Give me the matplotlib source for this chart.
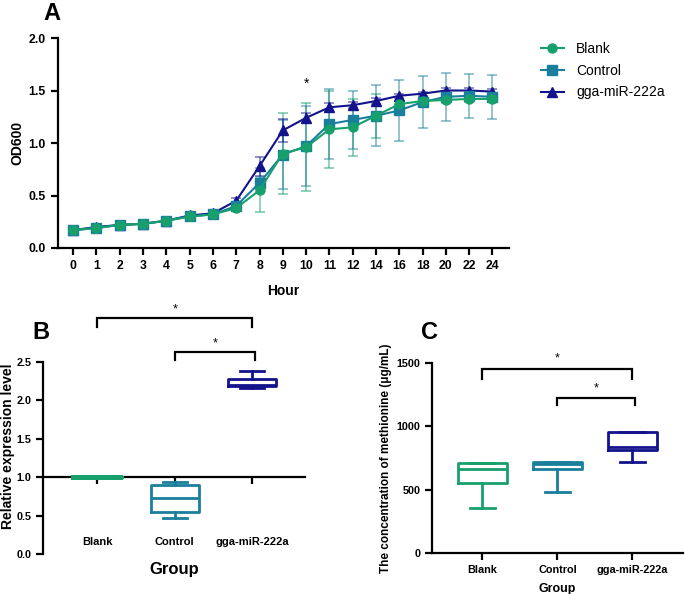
import matplotlib
matplotlib.use("Agg")
import matplotlib.pyplot as plt
import numpy as np

plt.rcParams['font.family'] = ['Liberation Sans', 'DejaVu Sans']

# ---------------- data ----------------
hours = ["0", "1", "2", "3", "4", "5", "6", "7", "8", "9", "10", "11", "12",
         "14", "16", "18", "20", "22", "24"]
blank_od = [0.17, 0.19, 0.22, 0.23, 0.26, 0.30, 0.32, 0.38, 0.55, 0.90, 0.96,
            1.13, 1.15, 1.26, 1.37, 1.40, 1.41, 1.42, 1.42]
blank_err = [0.01, 0.01, 0.01, 0.01, 0.01, 0.01, 0.01, 0.02, 0.21, 0.39, 0.42,
             0.37, 0.27, 0.21, 0.03, 0.03, 0.03, 0.03, 0.03]
control_od = [0.17, 0.19, 0.22, 0.23, 0.26, 0.30, 0.32, 0.40, 0.62, 0.89, 0.97,
              1.18, 1.22, 1.26, 1.31, 1.39, 1.44, 1.45, 1.44]
control_err = [0.01, 0.01, 0.01, 0.01, 0.01, 0.01, 0.01, 0.02, 0.06, 0.33, 0.38,
               0.33, 0.28, 0.29, 0.29, 0.25, 0.23, 0.21, 0.21]
mir_od = [0.17, 0.20, 0.22, 0.23, 0.26, 0.31, 0.33, 0.45, 0.78, 1.12, 1.24,
          1.34, 1.36, 1.40, 1.45, 1.47, 1.50, 1.50, 1.49]
mir_err = [0.01, 0.01, 0.01, 0.01, 0.01, 0.01, 0.01, 0.03, 0.09, 0.11, 0.05,
           0.04, 0.03, 0.03, 0.02, 0.02, 0.02, 0.02, 0.02]
series_names = ["Blank", "Control", "gga-miR-222a"]

groups = ["Blank", "Control", "gga-miR-222a"]
# panel B box stats: whislo, q1, med, q3, whishi
b_whislo = [1.0, 0.47, 2.16]
b_q1 = [1.0, 0.55, 2.19]
b_med = [1.0, 0.73, 2.20]
b_q3 = [1.0, 0.90, 2.28]
b_whishi = [1.0, 0.94, 2.38]
# panel C box stats
c_whislo = [359, 480, 719]
c_q1 = [551, 663, 813]
c_med = [663, 703, 839]
c_q3 = [713, 721, 952]
c_whishi = [713, 721, 952]

green = "#17a06c"
teal = "#1a7f9c"
navy = "#13138c"
colors = [green, teal, navy]
markers = ["o", "s", "^"]

fig = plt.figure(figsize=(6.85, 5.94), dpi=100)

# ---------------- Panel A ----------------
axA = fig.add_axes([0.0847, 0.5825, 0.658, 0.3535])
x = np.arange(len(hours))
for vals, errs, c in zip([blank_od, control_od, mir_od],
                         [blank_err, control_err, mir_err], colors):
    axA.errorbar(x, vals, yerr=errs, fmt="none", ecolor=c, alpha=0.55,
                 elinewidth=1.2, capsize=3.5, capthick=1.2, zorder=2)
lines = {}
for vals, c, m, name, z in zip([blank_od, control_od, mir_od], colors, markers,
                               series_names, [5, 4, 3]):
    ln, = axA.plot(x, vals, color=c, marker=m, markersize=6.5, lw=1.5,
                   label=name, zorder=z)
    lines[name] = ln
axA.set_xlim(-0.65, 18.7)
axA.set_ylim(0, 2.0)
axA.set_yticks([0, 0.5, 1.0, 1.5, 2.0])
axA.set_yticklabels(["0.0", "0.5", "1.0", "1.5", "2.0"])
axA.set_xticks(x)
axA.set_xticklabels(hours)
for s in ["top", "right"]:
    axA.spines[s].set_visible(False)
for s in ["left", "bottom"]:
    axA.spines[s].set_linewidth(1.6)
axA.tick_params(width=1.6, length=5, labelsize=8.8, pad=4)
for lab in axA.get_xticklabels() + axA.get_yticklabels():
    lab.set_fontweight("bold")
axA.set_xlabel("Hour", fontsize=10, fontweight="bold", labelpad=8)
axA.set_ylabel("OD600", fontsize=10, fontweight="bold", labelpad=3)
axA.text(10, 1.56, "*", ha="center", va="center", fontsize=10)
fig.text(0.064, 0.978, "A", fontsize=17, fontweight="bold", va="center")
leg = fig.legend(handles=[lines[n] for n in series_names],
                 loc="upper left", bbox_to_anchor=(0.772, 0.95),
                 frameon=False, fontsize=10, handlelength=1.6,
                 labelspacing=0.55, handletextpad=0.9)


def draw_box(ax, whislo, q1, med, q3, whishi, width):
    stats = []
    for i in range(len(groups)):
        stats.append(dict(whislo=whislo[i], q1=q1[i], med=med[i], q3=q3[i],
                          whishi=whishi[i], fliers=[]))
    bp = ax.bxp(stats, positions=range(len(groups)), widths=width,
                showfliers=False, patch_artist=False, manage_ticks=False)
    for i, c in enumerate(colors):
        for key in ["boxes", "medians"]:
            bp[key][i].set_color(c)
            bp[key][i].set_linewidth(2.0)
            bp[key][i].set_zorder(5)
        for j in (2 * i, 2 * i + 1):
            bp["whiskers"][j].set_color(c)
            bp["whiskers"][j].set_linewidth(2.0)
            bp["caps"][j].set_color(c)
            bp["caps"][j].set_linewidth(2.0)
            bp["whiskers"][j].set_zorder(5)
            bp["caps"][j].set_zorder(5)
    return bp


def bracket(ax, x0, x1, ytop, ylow, ystar, fs=9):
    ax.plot([x0, x0, x1, x1], [ylow, ytop, ytop, ylow], color="black",
            lw=1.6, clip_on=False, solid_joinstyle="miter")
    ax.text((x0 + x1) / 2, ystar, "*", ha="center", va="center",
            fontsize=fs, clip_on=False)


# ---------------- Panel B ----------------
axB = fig.add_axes([0.0628, 0.0673, 0.3825, 0.3232])
bpB = draw_box(axB, b_whislo, b_q1, b_med, b_q3, b_whishi, 0.62)
bpB["boxes"][0].set_linewidth(3.5)
bpB["medians"][0].set_linewidth(3.5)
axB.set_xlim(-0.7, 2.68)
axB.set_ylim(0, 2.5)
axB.set_yticks([0, 0.5, 1.0, 1.5, 2.0, 2.5])
axB.set_yticklabels(["0.0", "0.5", "1.0", "1.5", "2.0", "2.5"])
axB.spines["bottom"].set_position(("data", 1.0))
for s in ["top", "right"]:
    axB.spines[s].set_visible(False)
for s in ["left", "bottom"]:
    axB.spines[s].set_linewidth(1.6)
axB.spines["bottom"].set_zorder(1)
axB.set_xticks(range(len(groups)))
axB.set_xticklabels([])
axB.tick_params(width=1.6, length=5, labelsize=7.8)
for lab in axB.get_yticklabels():
    lab.set_fontweight("bold")
for i, g in enumerate(groups):
    axB.text(i, 0.16, g, ha="center", va="center", fontsize=8,
             fontweight="bold")
axB.set_ylabel("Relative expression level", fontsize=10, fontweight="bold")
axB.yaxis.set_label_coords(-0.107, 0.56)
axB.text(0.5, -0.08, "Group", transform=axB.transAxes, ha="center",
         va="center", fontsize=12, fontweight="bold")
bracket(axB, 0, 2, 3.07, 2.96, 3.18)
bracket(axB, 1, 2.03, 2.63, 2.53, 2.74)
fig.text(0.047, 0.44, "B", fontsize=17, fontweight="bold", va="center")

# ---------------- Panel C ----------------
axC = fig.add_axes([0.6307, 0.069, 0.366, 0.32])
draw_box(axC, c_whislo, c_q1, c_med, c_q3, c_whishi, 0.65)
axC.set_xlim(-0.67, 2.67)
axC.set_ylim(0, 1500)
axC.set_yticks([0, 500, 1000, 1500])
for s in ["top", "right"]:
    axC.spines[s].set_visible(False)
for s in ["left", "bottom"]:
    axC.spines[s].set_linewidth(1.6)
axC.set_xticks(range(len(groups)))
axC.set_xticklabels(groups)
axC.tick_params(width=1.6, length=5, labelsize=7.8)
for lab in axC.get_xticklabels() + axC.get_yticklabels():
    lab.set_fontweight("bold")
axC.set_xlabel("Group", fontsize=9, fontweight="bold", labelpad=6)
axC.set_ylabel("The concentration of methionine (\u03bcg/mL)", fontsize=8.5,
               fontweight="bold", labelpad=3)
bracket(axC, 0, 2, 1450, 1372, 1534)
bracket(axC, 1, 2.03, 1227, 1167, 1298)
fig.text(0.614, 0.44, "C", fontsize=17, fontweight="bold", va="center")

fig.savefig("out.png", dpi=100)
